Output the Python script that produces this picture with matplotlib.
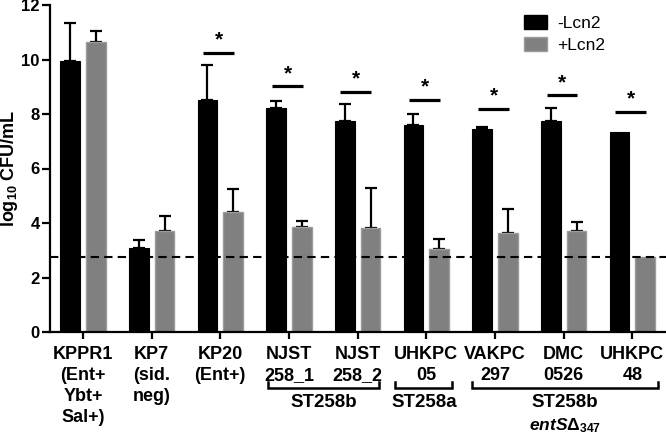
import matplotlib
matplotlib.use("Agg")
import matplotlib.pyplot as plt
import matplotlib.patches as mpatches
import matplotlib.transforms as mtransforms
import numpy as np

plt.rcParams['font.family'] = ['Liberation Sans', 'DejaVu Sans']
plt.rcParams['mathtext.fontset'] = 'custom'
plt.rcParams['mathtext.rm'] = 'Liberation Sans:bold'
plt.rcParams['mathtext.it'] = 'Liberation Sans:italic:bold'
plt.rcParams['mathtext.bf'] = 'Liberation Sans:bold'

# ---- data ----
strains = ["KPPR1\n(Ent+\nYbt+\nSal+)", "KP7\n(sid.\nneg)", "KP20\n(Ent+)",
           "NJST\n258_1", "NJST\n258_2", "UHKPC\n05", "VAKPC\n297",
           "DMC\n0526", "UHKPC\n48"]
minus_lcn2 = [9.95, 3.08, 8.50, 8.21, 7.73, 7.61, 7.46, 7.73, 7.34]
minus_err = [1.40, 0.31, 1.29, 0.25, 0.63, 0.39, 0.05, 0.50, 0.0]
plus_lcn2 = [10.64, 3.72, 4.41, 3.84, 3.83, 3.05, 3.65, 3.69, 2.77]
plus_err = [0.42, 0.52, 0.85, 0.22, 1.44, 0.35, 0.86, 0.36, 0.0]
detection_limit = 2.77
sig_groups = [2, 3, 4, 5, 6, 7, 8]
sig_heights = [10.25, 9.01, 8.82, 8.51, 8.18, 8.68, 8.07]
clade_labels = ["ST258b", "ST258a", "ST258b"]
clade_sub = ["", "", r"$\mathit{entS}\Delta_{\mathit{347}}$"]

fig = plt.figure(figsize=(6.66, 4.38), dpi=100)
ax = fig.add_axes([50/666, 106/438, 616/666, 327/438])

x = np.arange(len(strains))
w = 0.285
off = 0.188
black = '#000000'
grey = '#808080'

ax.bar(x - off, minus_lcn2, width=w, color=black, edgecolor=black, linewidth=0.8, zorder=2)
ax.bar(x + off, plus_lcn2, width=w, color=grey, edgecolor='#9c9c9c', linewidth=1.0, zorder=2)

# one-sided (upper) error bars
for xi, v, e in zip(x - off, minus_lcn2, minus_err):
    if e > 0:
        ax.errorbar([xi], [v], yerr=[[0], [e]], fmt='none', ecolor='black',
                    elinewidth=1.6, capsize=4.5, capthick=1.6, zorder=1)
for xi, v, e in zip(x + off, plus_lcn2, plus_err):
    if e > 0:
        ax.errorbar([xi], [v], yerr=[[0], [e]], fmt='none', ecolor='black',
                    elinewidth=1.6, capsize=4.5, capthick=1.6, zorder=1)

ax.axhline(detection_limit, color='black', linestyle=(0, (4, 2.5)), linewidth=1.5, zorder=3)

# significance markers
for g, h in zip(sig_groups, sig_heights):
    ax.plot([g - 0.25, g + 0.2], [h, h], color='black', linewidth=2.3, solid_capstyle='butt', zorder=3)
    ax.text(g - 0.02, h + 0.12, "*", ha='center', va='bottom', fontsize=15, fontweight='bold')

ax.set_xlim(-0.48, 8.49)
ax.set_ylim(0, 12)
ax.set_yticks([0, 2, 4, 6, 8, 10, 12])
ax.set_xticks(x)
ax.set_xticklabels(strains, fontsize=13, fontweight='bold', linespacing=1.32)
for lab in ax.get_yticklabels():
    lab.set_fontweight('bold')
    lab.set_fontsize(12)

for s in ['top', 'right']:
    ax.spines[s].set_visible(False)
for s in ['left', 'bottom']:
    ax.spines[s].set_linewidth(1.6)
ax.tick_params(axis='x', width=1.6, length=5, direction='out', pad=5)
ax.tick_params(axis='y', width=1.6, length=6, direction='out', pad=1.5)

ax.set_ylabel(r"log$_{10}$ CFU/mL", fontsize=13, fontweight='bold')
ax.yaxis.set_label_coords(-30/616, 0.5)

# clade brackets below the axis
trans = mtransforms.blended_transform_factory(ax.transData, fig.transFigure)
bracket_y = 1 - 388/438
tip_y = 1 - 382/438
bracket_ext = [(2.70, 4.31), (4.55, 5.38), (5.66, 8.38)]
for (a, b), lab, sub in zip(bracket_ext, clade_labels, clade_sub):
    ax.plot([a, a, b, b], [tip_y, bracket_y, bracket_y, tip_y], color='black', linewidth=1.8,
            transform=trans, clip_on=False, solid_joinstyle='miter')
    ax.text((a + b) / 2, 1 - 394/438, lab, ha='center', va='top', fontsize=13.5,
            fontweight='bold', transform=trans)
    if sub:
        ax.text((a + b) / 2, 1 - 416/438, sub, ha='center', va='top', fontsize=12.5, transform=trans)

# legend
handles = [mpatches.Patch(facecolor=black, edgecolor=black, label='-Lcn2'),
           mpatches.Patch(facecolor=grey, edgecolor='#9c9c9c', label='+Lcn2')]
fig.legend(handles=handles, loc='upper left', bbox_to_anchor=(521/666, 1 - 12/438),
           frameon=False, fontsize=12.5, handlelength=1.3, handleheight=0.8,
           handletextpad=0.6, labelspacing=0.35, borderaxespad=0, borderpad=0.2)

fig.savefig("out.png", dpi=100)
